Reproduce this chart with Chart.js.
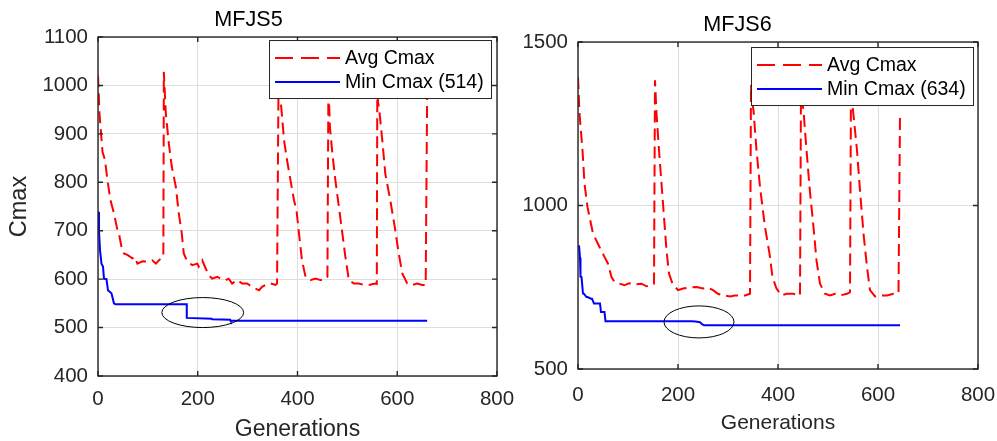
<!DOCTYPE html>
<html><head><meta charset="utf-8">
<script src="https://cdn.jsdelivr.net/npm/chart.js@4.4.1/dist/chart.umd.min.js"></script>
<style>
html,body{margin:0;padding:0;background:#fff;width:997px;height:441px;overflow:hidden}
#c1{position:absolute;left:0;top:0}
#c2{position:absolute;left:497px;top:0}
</style></head><body>
<canvas id="c1" width="520" height="441"></canvas>
<canvas id="c2" width="500" height="441"></canvas>
<script>
// ---------- MFJS5 ----------
const mfjs5AvgGen = [0,3,9,14,19,25,32,39,42,47,52,59,69,74,79,89,99,109,116,126,131,132,136,142,148,156,162,168,172,179,189,199,202,209,216,222,229,239,246,256,262,269,279,289,299,309,323,329,336,346,356,359,362,366,368,373,379,386,393,398,403,409,416,426,436,446,453,460,462,463,465,470,476,483,490,496,503,513,523,533,543,556,559,560,561,564,570,576,586,595,603,610,620,630,640,650,657,660];
const mfjs5Avg = [1021,942,863,846,804,763,736,701,694,667,653,650,643,646,632,637,636,639,632,643,646,1028,942,880,832,791,736,694,653,636,629,632,626,639,622,608,601,605,601,598,601,591,598,591,591,584,577,584,588,591,588,591,1010,969,949,887,846,804,763,742,694,639,605,598,601,598,598,605,1005,976,914,859,804,749,694,646,598,591,591,588,588,591,590,1000,969,949,887,818,763,708,653,612,591,588,591,588,588,990];
const mfjs5MinGen = [0,2,4,7,10,12,17,20,27,32,35,178,178,228,229,265,266,660];
const mfjs5Min = [739,700,660,632,626,601,600,577,571,550,548,548,520,518,517,516,514,514];

// ---------- MFJS6 ----------
const mfjs6AvgGen = [0,3,9,13,19,30,43,53,60,67,73,83,93,100,110,117,127,137,147,152,154,157,162,167,172,177,182,189,200,210,224,237,250,260,270,280,290,304,314,324,334,344,346,348,351,357,364,374,383,389,397,407,417,431,444,446,448,451,456,463,471,477,484,494,504,514,524,538,544,546,548,550,558,564,571,578,584,594,604,618,631,641,644];
const mfjs6Avg = [1393,1281,1169,1067,995,914,873,843,822,781,766,761,756,761,763,759,761,753,756,761,1383,1281,1169,1067,965,863,792,761,741,746,749,751,746,749,741,730,725,722,725,725,725,730,1370,1320,1291,1169,1057,934,853,781,746,725,730,730,725,1360,1320,1291,1189,1057,934,832,761,730,725,730,725,730,735,1360,1320,1291,1169,1046,914,812,741,722,725,725,730,732,1276];
const mfjs6MinGen = [2,4,5,7,10,12,17,19,26,28,32,44,46,53,55,227,235,244,248,252,644];
const mfjs6Min = [878,840,782,781,731,730,720,720,715,715,700,700,674,674,646,646,645,643,637,634,634];

const xTicksMax = 800;
const seriesNames = ['Avg Cmax', 'Min Cmax'];

const FONT = '"Liberation Sans", Arial, sans-serif';
const pts = (xs, ys) => xs.map((v, i) => ({x: v, y: ys[i]}));

function framePlugin(cfg) {
  return {
    id: 'matlabFrame',
    afterDraw(chart) {
      const {ctx, chartArea: {left, right, top, bottom}, scales: {x, y}} = chart;
      ctx.save();
      // ellipse highlight
      const cx = x.getPixelForValue(cfg.ell.x), cy = y.getPixelForValue(cfg.ell.y);
      const rx = Math.abs(x.getPixelForValue(cfg.ell.x + cfg.ell.rx) - cx);
      const ry = Math.abs(y.getPixelForValue(cfg.ell.y + cfg.ell.ry) - cy);
      ctx.strokeStyle = '#000'; ctx.lineWidth = 1;
      ctx.beginPath(); ctx.ellipse(cx, cy, rx, ry, 0, 0, Math.PI * 2); ctx.stroke();
      // box
      ctx.strokeStyle = '#262626'; ctx.lineWidth = 1.4;
      ctx.strokeRect(left, top, right - left, bottom - top);
      const tl = 5;
      ctx.beginPath();
      x.ticks.forEach(t => { const p = x.getPixelForValue(t.value);
        ctx.moveTo(p, bottom); ctx.lineTo(p, bottom - tl); ctx.moveTo(p, top); ctx.lineTo(p, top + tl); });
      y.ticks.forEach(t => { const p = y.getPixelForValue(t.value);
        ctx.moveTo(left, p); ctx.lineTo(left + tl, p); ctx.moveTo(right, p); ctx.lineTo(right - tl, p); });
      ctx.stroke();
      // legend
      const lw = 222, lh = 58;
      const lx = right - cfg.legRight - lw, ly = top + cfg.legTop;
      ctx.fillStyle = '#fff'; ctx.fillRect(lx, ly, lw, lh);
      ctx.strokeStyle = '#262626'; ctx.lineWidth = 1; ctx.strokeRect(lx + 0.5, ly + 0.5, lw, lh);
      const ds = chart.data.datasets;
      const rows = [ly + 18, ly + 42];
      ds.forEach((d, i) => {
        ctx.strokeStyle = d.borderColor; ctx.lineWidth = 2;
        ctx.setLineDash(d.borderDash && d.borderDash.length ? [18, 8] : []);
        ctx.beginPath(); ctx.moveTo(lx + 6, rows[i]); ctx.lineTo(lx + 71, rows[i]); ctx.stroke();
        ctx.setLineDash([]);
        ctx.fillStyle = '#000'; ctx.font = '19.5px ' + FONT; ctx.textBaseline = 'middle'; ctx.textAlign = 'left';
        ctx.fillText(d.label, lx + 76, rows[i] + 1);
      });
      ctx.restore();
    }
  };
}

function makeChart(id, o) {
  return new Chart(document.getElementById(id), {
    type: 'line',
    data: {
      datasets: [
        {label: seriesNames[0], data: pts(o.avgX, o.avgY), borderColor: '#ff0000', borderWidth: 2, borderDash: [12, 6], pointRadius: 0, tension: 0},
        {label: seriesNames[1] + ' (' + o.best + ')', data: pts(o.minX, o.minY), borderColor: '#0000ff', borderWidth: 2, pointRadius: 0, tension: 0}
      ]
    },
    options: {
      responsive: false, animation: false, devicePixelRatio: 1,
      layout: {padding: {left: 0, right: o.padRight, top: 0, bottom: 0}},
      plugins: {
        legend: {display: false}, tooltip: {enabled: false},
        title: {display: true, text: o.title, color: '#000', font: {family: FONT, size: 21.6, weight: 'normal', lineHeight: 1.2}, padding: {top: o.titleTop, bottom: 4.1}}
      },
      scales: {
        x: {
          type: 'linear', min: 0, max: xTicksMax,
          ticks: {stepSize: 200, color: '#262626', font: {family: FONT, size: 20.5}, padding: o.xTickPad, maxRotation: 0, callback: v => String(v)},
          grid: {color: '#dedede', lineWidth: 1, drawTicks: false},
          border: {display: false},
          title: {display: true, text: 'Generations', color: '#262626', font: {family: FONT, size: o.xTitleSize, lineHeight: 1}, padding: {top: 0, bottom: o.xTitlePadB}},
          afterFit: s => { s.height = o.xAxisH; s.paddingLeft = 0; s.paddingRight = 0; }
        },
        y: {
          min: o.yMin, max: o.yMax,
          ticks: {stepSize: o.yStep, color: '#262626', font: {family: FONT, size: 20.5}, padding: 10, callback: v => String(v)},
          grid: {color: '#dedede', lineWidth: 1, drawTicks: false},
          border: {display: false},
          title: {display: o.yTitle !== '', text: o.yTitle, color: '#262626', font: {family: FONT, size: 23.5, lineHeight: 1}, padding: {top: 8, bottom: 0}},
          afterFit: s => { s.width = o.yAxisW; s.paddingTop = 0; s.paddingBottom = 0; }
        }
      }
    },
    plugins: [framePlugin(o.frame)]
  });
}

makeChart('c1', {
  title: 'MFJS5', best: 514,
  avgX: mfjs5AvgGen, avgY: mfjs5Avg, minX: mfjs5MinGen, minY: mfjs5Min,
  yMin: 400, yMax: 1100, yStep: 100, yTitle: 'Cmax',
  padRight: 23, titleTop: 7, xAxisH: 65, xTickPad: 11, xTitleSize: 23, xTitlePadB: 0, yAxisW: 98,
  frame: {ell: {x: 210, y: 531, rx: 82, ry: 31}, legRight: 6, legTop: 3}
});
makeChart('c2', {
  title: 'MFJS6', best: 634,
  avgX: mfjs6AvgGen, avgY: mfjs6Avg, minX: mfjs6MinGen, minY: mfjs6Min,
  yMin: 500, yMax: 1500, yStep: 500, yTitle: '',
  padRight: 19, titleTop: 12, xAxisH: 72, xTickPad: 14, xTitleSize: 21, xTitlePadB: 7.5, yAxisW: 81,
  frame: {ell: {x: 242, y: 644, rx: 70, ry: 49}, legRight: 5, legTop: 5}
});
</script>
</body></html>
